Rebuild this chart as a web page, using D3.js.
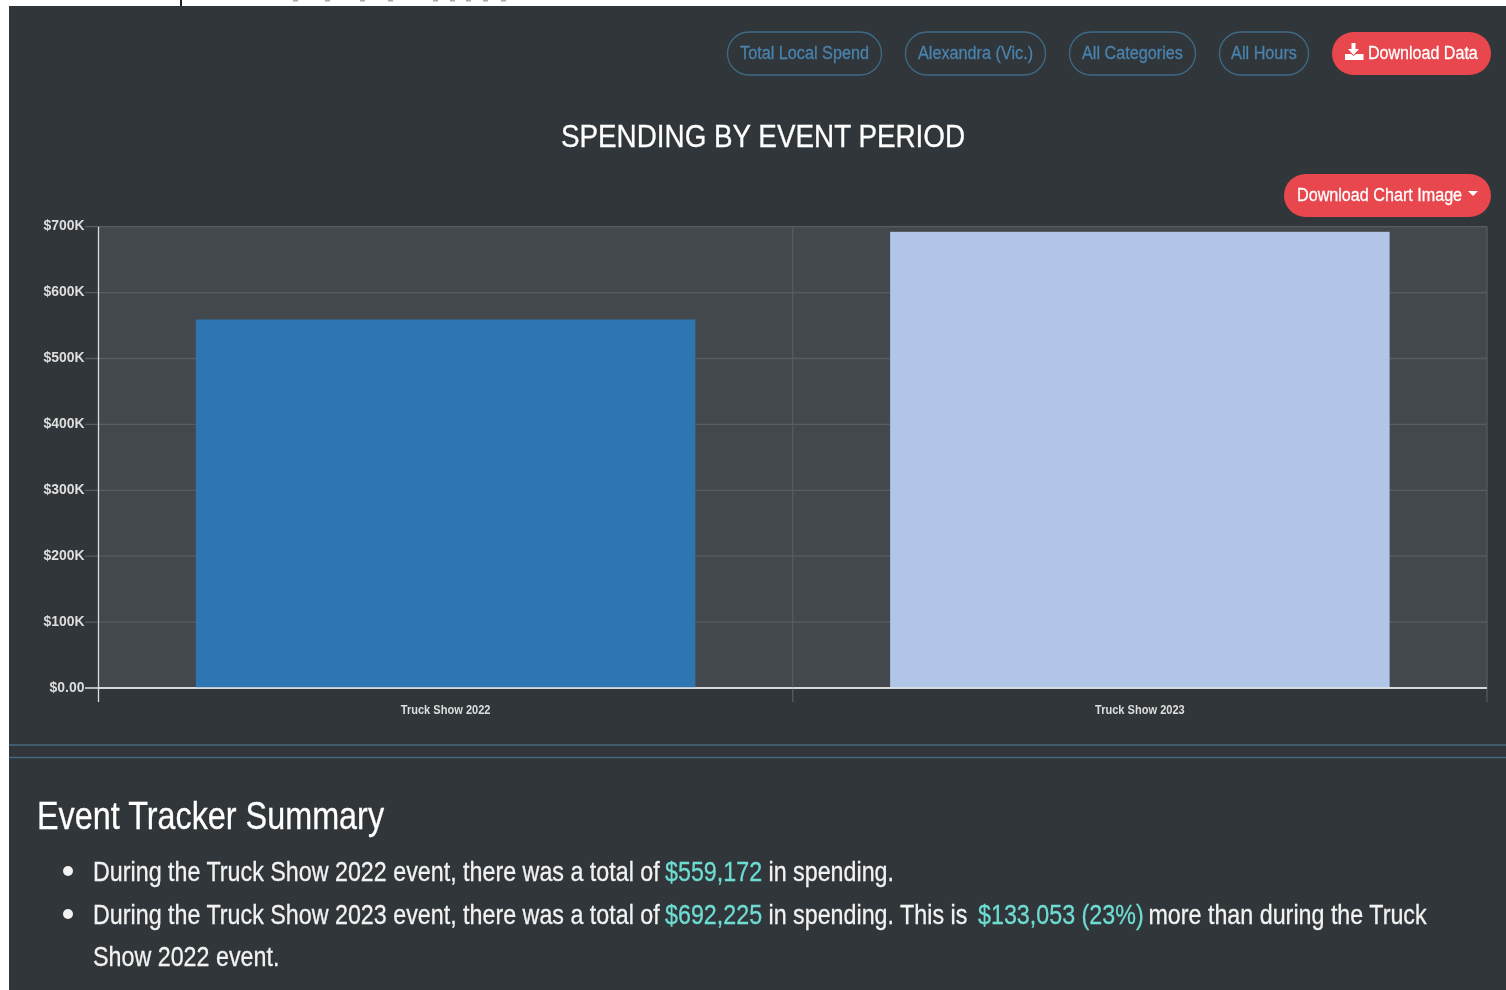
<!DOCTYPE html>
<html><head><meta charset="utf-8">
<script src="https://cdnjs.cloudflare.com/ajax/libs/d3/7.8.5/d3.min.js"></script>
<style>
html,body{margin:0;padding:0;background:#fff;overflow:hidden}
svg{display:block;filter:blur(.35px)}
text{font-family:"Liberation Sans",sans-serif}
</style></head><body><div id="chart"></div>
<script>
const categories = ["Truck Show 2022", "Truck Show 2023"];
const values = [559172, 692225];
const barColors = ["#2d76b1", "#b1c6e7"];
const yTicks = [0, 100000, 200000, 300000, 400000, 500000, 600000, 700000];
const pills = ["Total Local Spend", "Alexandra (Vic.)", "All Categories", "All Hours"];
const pillBoxes = [[727, 882], [905, 1046], [1069, 1196], [1219, 1309]];
const title = "SPENDING BY EVENT PERIOD";
const summaryTitle = "Event Tracker Summary";
const summaryLines = [
  [["During the Truck Show 2022 event, there was a total of ", 0], ["$559,172", 1], [" in spending.", 0]],
  [["During the Truck Show 2023 event, there was a total of ", 0], ["$692,225", 1], [" in spending. This is ", 0], ["$133,053 (23%)", 1], [" more than during the Truck", 0]],
  [["Show 2022 event.", 0]]
];
const segmentStarts = [[93, 665, 762], [93, 665, 762, 978, 1142], [93]];
const topSpecks = [295, 327, 362, 390, 435, 452, 468, 485, 503];

const W = 1506, H = 990;
const svg = d3.select("#chart").append("svg").attr("width", W).attr("height", H);
svg.append("rect").attr("x", 9).attr("y", 6).attr("width", W - 9).attr("height", H - 6).attr("fill", "#30363a");

// condensed text helper: the reference font is a narrow face, so squeeze horizontally
function narrow(xp, yp, size, ratio, anchor, fill, str, weight) {
  const t = svg.append("text").attr("transform", `translate(${xp},${yp}) scale(${ratio},1)`)
    .attr("font-size", size).attr("text-anchor", anchor || "start").attr("fill", fill).attr("font-weight", weight || "normal")
    .attr("stroke", fill).attr("stroke-width", weight === "bold" ? 0 : 0.3);
  if (str) t.text(str);
  return t;
}

// Remains of the page above the crop
svg.append("rect").attr("x", 180).attr("y", 0).attr("width", 2).attr("height", 6).attr("fill", "#222");
topSpecks.forEach(v => svg.append("rect").attr("x", v - 2).attr("y", 0).attr("width", 5).attr("height", 1.5).attr("fill", "#aaa"));

// Pills
pills.forEach((p, i) => {
  const [a, b] = pillBoxes[i];
  svg.append("rect").attr("x", a + .5).attr("y", 32).attr("width", b - a - 1).attr("height", 43).attr("rx", 21.5)
    .attr("fill", "none").attr("stroke", "#3f6a86").attr("stroke-width", 1.3);
  narrow((a + b) / 2, 58.8, 19, 0.854, "middle", "#4a83ad", p);
});
svg.append("rect").attr("x", 1332).attr("y", 32).attr("width", 159).attr("height", 43).attr("rx", 21.5).attr("fill", "#e7474d");
svg.append("path").attr("d", "M1351.5 43h4v6h3.5l-5.5 6-5.5-6h3.5zM1345 54h6l2.5 2 2.5-2h7.5v6h-18.5z").attr("fill", "#fff");
narrow(1368, 58.8, 19, 0.846, "start", "#fff", "Download Data");

narrow(763, 147, 32, 0.87, "middle", "#fff", title);

svg.append("rect").attr("x", 1284).attr("y", 174).attr("width", 207).attr("height", 43).attr("rx", 21.5).attr("fill", "#e7474d");
narrow(1297, 200.5, 19, 0.85, "start", "#fff", "Download Chart Image");
svg.append("path").attr("d", "M1468 191h10l-5 5z").attr("fill", "#fff");

// Chart
const x0 = 98.5, x1 = 1487, yTop = 226.7, yBase = 688;
const x = d3.scaleBand().domain(categories).range([x0, x1]).paddingInner(0).paddingOuter(0);
const y = d3.scaleLinear().domain([0, 700000]).range([yBase, yTop]);
svg.append("rect").attr("x", x0).attr("y", yTop).attr("width", x1 - x0).attr("height", yBase - yTop).attr("fill", "#43484c");

yTicks.forEach(t => {
  svg.append("line").attr("x1", 85).attr("x2", x1).attr("y1", y(t)).attr("y2", y(t))
    .attr("stroke", t === 0 ? "#e4e4e4" : "#585d61").attr("stroke-width", t === 0 ? 1.6 : 1.3);
  narrow(84.5, y(t) + 3.5, 15, 0.93, "end", "#dedede", t === 0 ? "$0.00" : "$" + t / 1000 + "K", "bold");
});
const edges = [x0, x0 + x.bandwidth(), x1];
edges.forEach((e, i) => {
  svg.append("line").attr("x1", e).attr("x2", e).attr("y1", yTop).attr("y2", 702)
    .attr("stroke", i === 0 ? "#dcdcdc" : "#585d61").attr("stroke-width", i === 0 ? 1.3 : 1.2);
});
const bw = 499.5;
svg.selectAll("rect.bar").data(categories).join("rect").attr("class", "bar")
  .attr("x", d => x(d) + (x.bandwidth() - bw) / 2).attr("width", bw)
  .attr("y", (d, i) => y(values[i])).attr("height", (d, i) => yBase - y(values[i]))
  .attr("fill", (d, i) => barColors[i]);
svg.append("line").attr("x1", x0).attr("x2", x1).attr("y1", yBase).attr("y2", yBase).attr("stroke", "#e4e4e4").attr("stroke-width", 1.6);
categories.forEach(c => narrow(x(c) + x.bandwidth() / 2, 714, 13.5, 0.82, "middle", "#dedede", c, "bold"));

// Rules
[745, 757.5].forEach(v => svg.append("line").attr("x1", 9).attr("x2", W).attr("y1", v).attr("y2", v).attr("stroke", "#44697f").attr("stroke-width", 1.5));

// Summary
narrow(37, 829, 39, 0.83, "start", "#fff", summaryTitle);
const lineY = [881, 924, 966];
const bodyRatio = 0.817;
summaryLines.forEach((segs, i) => {
  const t = narrow(93, lineY[i], 28.5, bodyRatio, "start", "#f2f2f2");
  t.attr("stroke", "none");
  segs.forEach((s, j) => t.append("tspan")
    .attr("x", (segmentStarts[i][j] - 93) / bodyRatio)
    .attr("xml:space", "preserve").style("white-space", "pre")
    .attr("fill", s[1] ? "#6fdcd2" : "#f2f2f2")
    .attr("stroke", s[1] ? "#6fdcd2" : "#f2f2f2").attr("stroke-width", 0.3).text(s[0]));
});
[0, 1].forEach(i => svg.append("circle").attr("cx", 68).attr("cy", lineY[i] - 10).attr("r", 5).attr("fill", "#f2f2f2"));
</script></body></html>
